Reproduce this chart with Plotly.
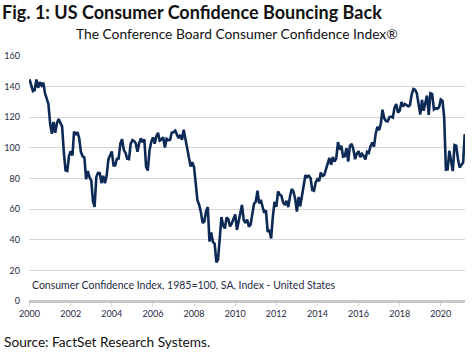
import plotly.graph_objects as go
import pandas as pd

start = "2000-01-01"
cci = [
    # 2000
    144.7, 140.8, 137.1, 137.7, 144.7, 139.2, 143.0, 140.8, 142.5, 135.8, 132.6, 128.6,
    # 2001
    115.7, 109.2, 116.9, 109.9, 116.1, 118.9, 116.3, 114.0, 97.0, 85.3, 84.9, 94.6,
    # 2002
    97.8, 95.0, 110.7, 108.5, 110.3, 106.3, 97.4, 94.5, 93.7, 79.6, 84.9, 80.7,
    # 2003
    78.8, 64.8, 61.4, 81.0, 83.6, 83.5, 77.0, 81.7, 77.0, 81.7, 92.5, 94.8,
    # 2004
    97.7, 88.5, 88.5, 93.0, 93.1, 102.8, 105.7, 98.7, 96.7, 92.9, 92.6, 102.7,
    # 2005
    105.1, 104.4, 103.0, 97.5, 103.1, 106.2, 103.6, 105.5, 87.5, 85.2, 98.3, 103.8,
    # 2006
    106.8, 102.7, 107.5, 109.8, 104.7, 105.4, 107.0, 100.2, 105.9, 105.1, 105.3, 110.0,
    # 2007
    110.2, 111.2, 108.2, 106.3, 108.5, 105.3, 111.9, 105.6, 99.5, 95.2, 87.8, 90.6,
    # 2008
    87.3, 76.4, 65.9, 62.8, 58.1, 51.0, 51.9, 58.5, 61.4, 38.8, 44.7, 38.6,
    # 2009
    37.4, 25.3, 26.9, 40.8, 54.8, 49.3, 47.4, 54.5, 53.4, 48.7, 50.6, 53.6,
    # 2010
    56.5, 46.4, 52.3, 57.7, 62.7, 52.9, 51.0, 53.2, 48.6, 49.9, 57.8, 63.4,
    # 2011
    64.8, 72.0, 63.8, 66.0, 61.7, 57.6, 59.2, 45.2, 46.4, 40.9, 55.2, 64.8,
    # 2012
    61.5, 71.6, 69.5, 68.7, 64.4, 62.7, 65.4, 61.3, 68.4, 73.1, 71.5, 66.7,
    # 2013
    58.4, 68.0, 61.9, 69.0, 74.3, 82.1, 81.0, 81.8, 80.2, 72.4, 72.0, 77.5,
    # 2014
    79.4, 78.3, 83.9, 81.7, 82.2, 86.4, 90.3, 93.4, 89.0, 94.1, 91.0, 93.1,
    # 2015
    103.8, 98.8, 101.4, 94.3, 94.6, 99.8, 91.0, 101.3, 102.6, 99.1, 92.6, 96.3,
    # 2016
    97.8, 94.0, 96.1, 94.7, 92.4, 97.4, 96.7, 101.1, 103.5, 100.8, 109.4, 113.7,
    # 2017
    111.6, 116.1, 124.9, 119.4, 117.6, 117.3, 120.0, 120.4, 119.8, 126.2, 128.6, 123.1,
    # 2018
    124.3, 130.0, 127.0, 128.7, 128.0, 127.1, 127.9, 134.7, 138.4, 137.9, 135.7, 128.1,
    # 2019
    121.7, 131.4, 124.2, 129.2, 134.1, 121.5, 135.7, 135.1, 125.1, 125.9, 125.5, 126.5,
    # 2020
    131.6, 130.7, 120.0, 85.7, 85.9, 98.1, 91.7, 84.8, 101.8, 101.4, 92.9, 87.1,
    # 2021
    88.9, 90.4, 109.0,
]
dates = pd.date_range(start, periods=len(cci), freq="MS")

tick_years = [str(y) for y in range(2000, 2021, 2)]
y_ticks = [0, 20, 40, 60, 80, 100, 120, 140, 160]

title_text = "Fig. 1: US Consumer Confidence Bouncing Back"
subtitle_text = "The Conference Board Consumer Confidence Index®"
series_label = "Consumer Confidence Index, 1985=100, SA, Index - United States"
source_text = "Source: FactSet Research Systems."

FONT = "Lato"
NAVY = "#0c2a55"

fig = go.Figure()
fig.add_trace(go.Scatter(
    x=dates, y=cci, mode="lines",
    line=dict(color=NAVY, width=2.6),
    hoverinfo="skip", showlegend=False,
))

fig.update_layout(
    width=476, height=352,
    margin=dict(l=29, r=11, t=56, b=51, autoexpand=False),
    paper_bgcolor="white", plot_bgcolor="white",
    font=dict(family=FONT, color="#333344"),
    xaxis=dict(
        range=["1999-12-22", "2021-03-06"],
        tickvals=[f"{y}-01-01" for y in tick_years],
        ticktext=tick_years,
        showgrid=False, zeroline=False,
        showline=False,
        ticks="outside", ticklen=4, tickcolor="#d0d0d0", tickwidth=1,
        tickfont=dict(size=9, color="#1f2a44", family=FONT),
        automargin=False,
    ),
    yaxis=dict(
        range=[0, 160],
        tickvals=y_ticks,
        showgrid=True, gridcolor="#d6d6d6", gridwidth=1,
        zeroline=True, zerolinecolor="#c8c8c8", zerolinewidth=2.5,
        showline=False, ticks="",
        tickfont=dict(size=9, color="#1f2a44", family=FONT),
        ticklabelstandoff=8,
        automargin=False,
    ),
    annotations=[
        dict(text=f"<b>{title_text}</b>", xref="paper", yref="paper",
             x=-29/436, y=1 + 44/245, xanchor="left", yanchor="middle",
             showarrow=False, font=dict(size=18, color="#111111", family=FONT)),
        dict(text=subtitle_text, xref="paper", yref="paper",
             x=(237 - 29)/436, y=1 + 23/245, xanchor="center", yanchor="middle",
             showarrow=False, font=dict(size=13.8, color="#111111", family=FONT)),
        dict(text=series_label, xref="paper", yref="paper",
             x=1/436, y=16/245, xanchor="left", yanchor="middle",
             showarrow=False, font=dict(size=10.5, color="#1f2a44", family=FONT)),
        dict(text=source_text, xref="paper", yref="paper",
             x=-27/436, y=-40/245, xanchor="left", yanchor="middle",
             showarrow=False, font=dict(size=13.7, color="#111111", family=FONT)),
    ],
)

fig.write_html("out.html")
